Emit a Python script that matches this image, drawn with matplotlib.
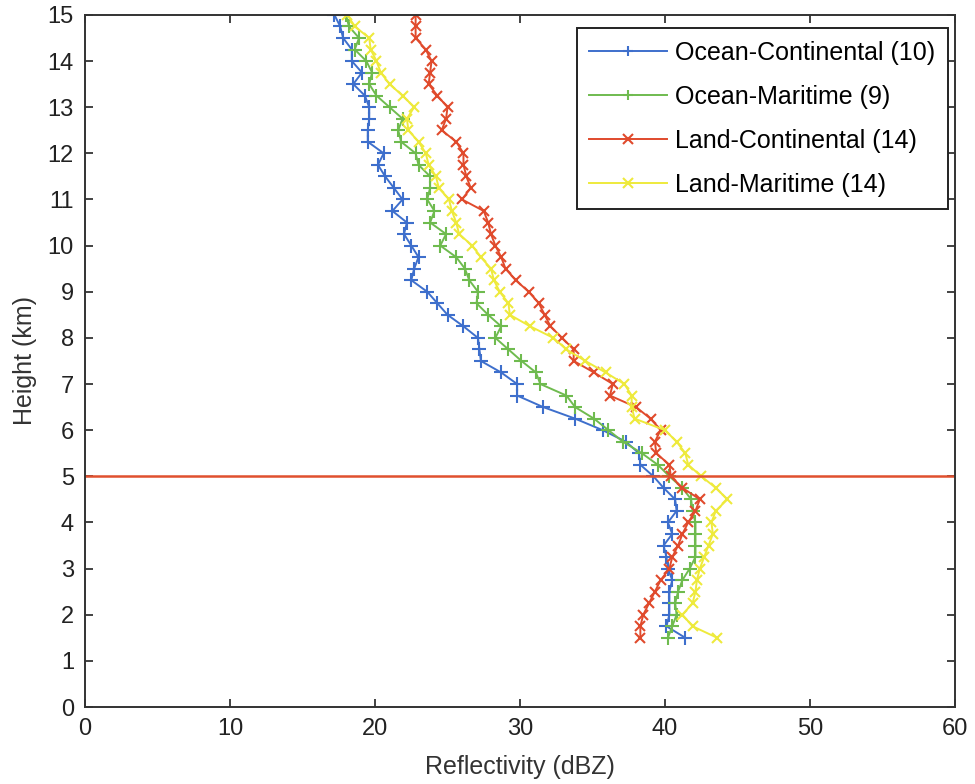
import numpy as np
import matplotlib
matplotlib.use("Agg")
import matplotlib.pyplot as plt

plt.rcParams['font.family'] = ['Liberation Sans', 'DejaVu Sans']

# heights (km), 1.5 to 15 every 0.25 km
height = np.arange(1.5, 15.01, 0.25)

ocean_continental = [
    41.4, 40.1, 40.3, 40.3, 40.3, 40.5, 40.2, 40.1, 39.9, 40.5,
    40.2, 40.8, 40.7, 39.9, 39.2, 38.3, 38.2, 37.3, 35.7, 33.8,
    31.6, 29.8, 29.8, 28.7, 27.3, 27.2, 27.1, 26.1, 25.0, 24.3,
    23.6, 22.5, 22.7, 23.0, 22.5, 22.0, 22.2, 21.2, 21.9, 21.3,
    20.7, 20.2, 20.6, 19.5, 19.5, 19.6, 19.6, 19.3, 18.5, 19.1,
    18.4, 18.4, 17.8, 17.6, 17.2,
]
ocean_maritime = [
    40.2, 40.5, 40.8, 40.7, 40.9, 41.2, 41.7, 42.1, 42.1, 42.1,
    42.1, 41.9, 41.8, 41.2, 40.3, 39.5, 38.4, 37.1, 36.1, 35.1,
    33.8, 33.2, 31.4, 31.1, 30.1, 29.2, 28.3, 28.7, 27.8, 27.0,
    27.1, 26.5, 26.2, 25.6, 24.5, 24.9, 23.8, 24.1, 23.6, 23.8,
    23.8, 23.0, 22.8, 21.8, 21.6, 21.9, 21.0, 20.1, 19.6, 19.8,
    19.4, 18.6, 18.9, 18.2, 18.0,
]
land_continental = [
    38.3, 38.3, 38.5, 38.9, 39.3, 39.7, 40.3, 40.5, 40.9, 41.2,
    41.6, 42.1, 42.4, 41.2, 40.4, 40.3, 39.4, 39.3, 39.7, 39.0,
    38.0, 36.2, 36.4, 35.1, 33.7, 33.7, 32.9, 32.1, 31.7, 31.3,
    30.6, 29.7, 29.0, 28.7, 28.3, 28.0, 27.8, 27.5, 26.0, 26.6,
    26.3, 26.1, 26.1, 25.6, 24.6, 24.9, 25.0, 24.3, 23.7, 23.8,
    23.9, 23.5, 22.8, 22.8, 22.8,
]
land_maritime = [
    43.6, 41.9, 41.2, 41.9, 42.1, 42.2, 42.4, 42.7, 43.0, 43.3,
    43.2, 43.5, 44.3, 43.5, 42.5, 41.6, 41.4, 40.8, 40.0, 37.9,
    37.7, 37.7, 37.2, 35.9, 34.5, 33.2, 32.3, 30.7, 29.3, 29.2,
    28.6, 28.2, 28.0, 27.3, 26.7, 25.8, 25.6, 25.3, 25.1, 24.4,
    24.2, 23.7, 23.5, 23.0, 22.3, 22.2, 22.7, 21.9, 21.0, 20.4,
    20.1, 19.7, 19.6, 18.6, 18.1,
]

labels = ["Ocean-Continental (10)", "Ocean-Maritime (9)",
          "Land-Continental (14)", "Land-Maritime (14)"]
series = [ocean_continental, ocean_maritime, land_continental, land_maritime]
colors = ["#3e6fcc", "#6fbb4f", "#e04a2c", "#eeea3c"]
markers = ["+", "+", "x", "x"]
msizes = [10, 10, 7, 7]

melting_level = 5

fig = plt.figure(figsize=(9.75, 7.84), dpi=100)
ax = fig.add_axes([0.0872, 0.0982, 0.8923, 0.8828])

for vals, lab, c, m, ms in zip(series, labels, colors, markers, msizes):
    ax.plot(vals, height, color=c, marker=m, markersize=ms, lw=1.4,
            mew=1.5, label=lab)

ax.axhline(melting_level, color="#e0502e", lw=1.8)

ax.set_xlim(0, 60)
ax.set_ylim(0, 15)
ax.set_xticks(np.arange(0, 61, 10))
ax.set_yticks(np.arange(0, 16, 1))
ax.tick_params(direction="in", length=6, width=1.2, top=True, right=True,
               labelsize=17, colors="#222222", pad=8)
for sp in ax.spines.values():
    sp.set_linewidth(1.4)
    sp.set_color("#333333")

ax.set_xlabel("Reflectivity (dBZ)", fontsize=18, color="#333333", labelpad=11)
ax.set_ylabel("Height (km)", fontsize=18, color="#333333", labelpad=8)

leg = ax.legend(loc="upper right", fontsize=18, fancybox=False, framealpha=1,
                edgecolor="#222222", borderpad=0.5, handlelength=3.1,
                handletextpad=0.35, labelspacing=0.8, borderaxespad=0,
                bbox_to_anchor=(0.992, 0.981))
leg.get_frame().set_linewidth(1.4)
for h in leg.legend_handles:
    h.set_markersize(7)

fig.savefig("out.png", dpi=100)
